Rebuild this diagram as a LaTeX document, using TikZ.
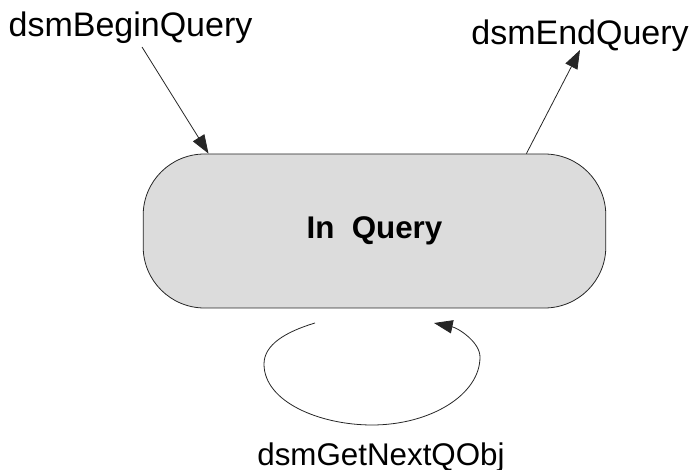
\documentclass[tikz,border=0pt]{standalone}
\usepackage{fontspec}
\setmainfont{Liberation Sans}
\usepackage{xcolor}
\usetikzlibrary{positioning,arrows.meta}
\definecolor{stategray}{HTML}{DCDCDC}

\begin{document}
\begin{tikzpicture}[x=0.75pt,y=-0.75pt,>={Triangle[length=14pt,width=10pt]},
    state/.style={draw=black!85,fill=stategray,line width=0.6pt,rounded corners=46pt,
      minimum width=347pt,minimum height=115.5pt,inner sep=0pt,
      font=\fontsize{23.5}{28}\selectfont\bfseries},
    evt/.style={anchor=base,inner sep=0pt,font=\fontsize{25.5}{30}\selectfont},
    evtsmall/.style={anchor=base,inner sep=0pt,font=\fontsize{23.5}{28}\selectfont},
    trans/.style={->,line width=0.6pt,black!85}]
  \useasboundingbox (0,0) rectangle (693,470);
  \node[state] (inq) at (374.5,231) {\raisebox{3pt}{In\hspace{0.55em}Query}};
  \node[evt] (begin) at (130.5,37) {dsmBeginQuery};
  \node[evt] (end) at (580,45) {dsmEndQuery};
  \node[evtsmall] (next) at (381,465) {dsmGetNextQObj};
  % free ends of the connectors
  \coordinate (beginTail) at (142,47);
  \coordinate (endTip) at (580,50);
  \coordinate (loopOut) at (315,323);
  \coordinate (loopIn) at (434,323);
  \draw[trans] (beginTail) -- (inq.155);
  \draw[trans] (inq.27) -- (endTip);
  \draw[trans] (loopOut) .. controls (285,332) and (264,345) .. (264,364)
    .. controls (264,402) and (320,425) .. (372,425)
    .. controls (430,425) and (480,395) .. (480,357)
    .. controls (480,342) and (458,328) .. (loopIn);
\end{tikzpicture}
\end{document}
